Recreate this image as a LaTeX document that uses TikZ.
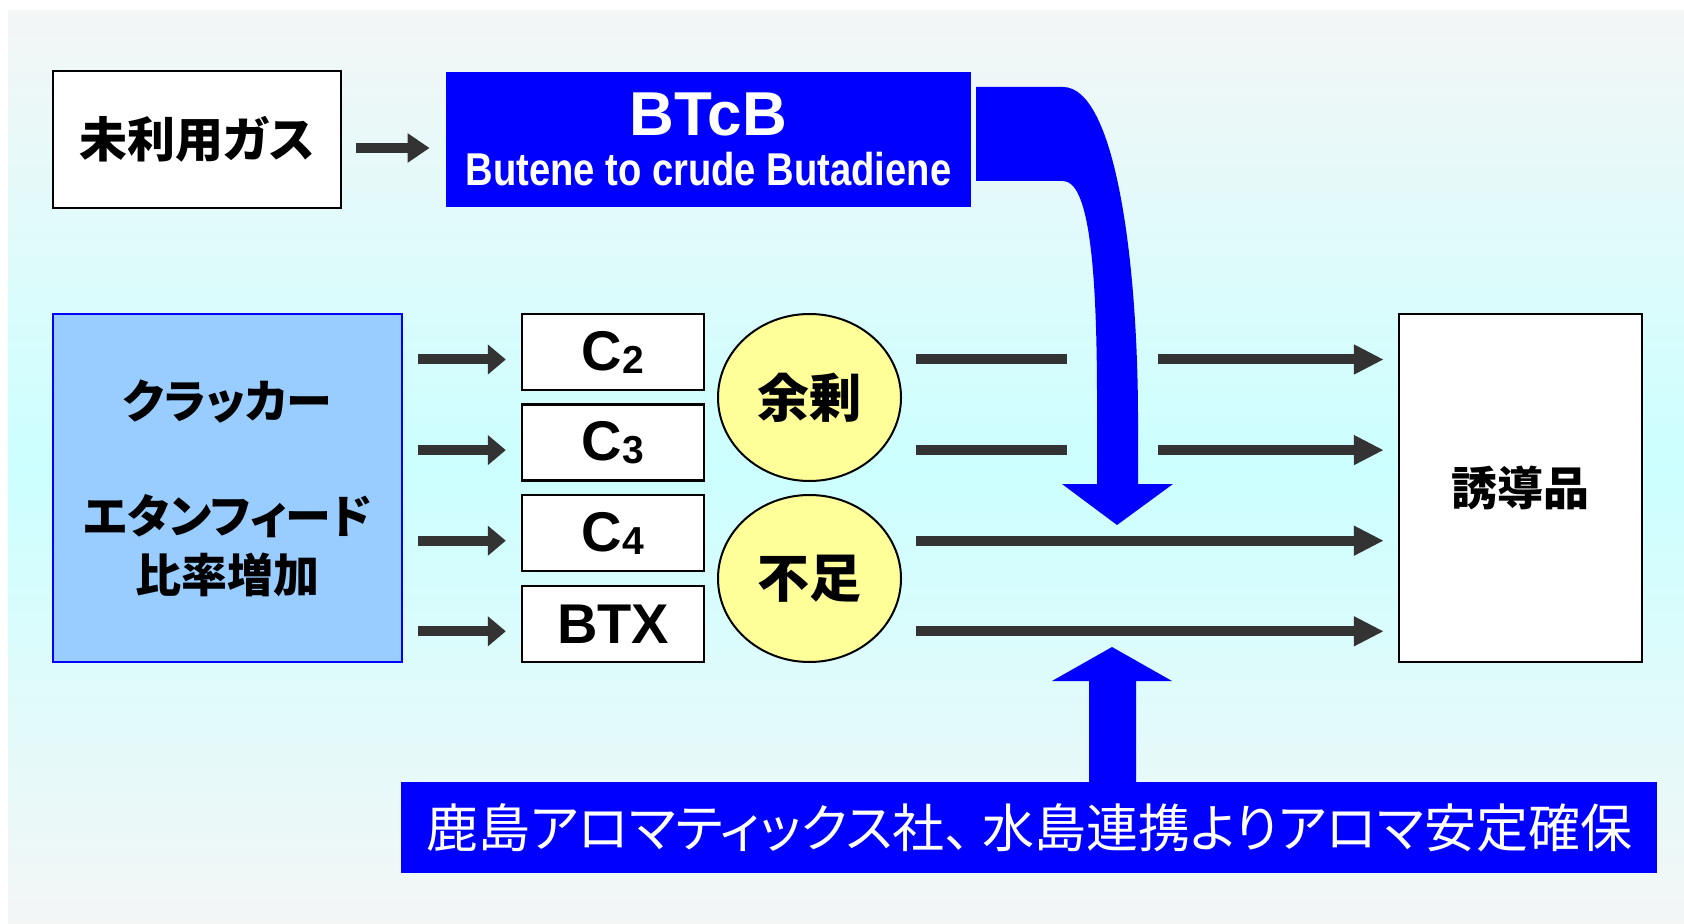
\documentclass[tikz,border=0pt]{standalone}
\usepackage{fontspec}
\usepackage{graphicx}
\setmainfont{Liberation Sans}
\newfontfamily\jp[RawFeature=+palt]{Noto Sans CJK JP}
\usetikzlibrary{arrows.meta,positioning,shapes.geometric}

\definecolor{bgedge}{RGB}{244,246,246}
\definecolor{bgmid}{RGB}{204,255,255}
\definecolor{flow}{RGB}{51,51,51}
\definecolor{crackfill}{RGB}{153,204,255}
\definecolor{ballfill}{RGB}{255,255,153}

\newcommand{\carbon}[1]{C\raisebox{-1.5pt}{\fontsize{19.5pt}{20pt}\selectfont #1}}

\begin{document}
\begin{tikzpicture}[x=0.5pt, y=-0.5pt, node distance=45.3pt,
    box/.style={draw=black, line width=1.2pt, fill=white, inner sep=0pt},
    bluebox/.style={fill=blue, text=white, inner sep=0pt},
    cbox/.style={box, minimum width=91pt, minimum height=38pt, font=\bfseries\fontsize{28pt}{30pt}\selectfont},
    balloon/.style={ellipse, draw=black, line width=1pt, fill=ballfill, minimum width=91.5pt, minimum height=83.5pt, inner sep=0pt, font=\jp\bfseries\fontsize{26pt}{28pt}\selectfont},
    feed/.style={draw=flow, line width=5pt, -{Triangle[length=9pt,width=14.5pt]}, shorten <=7.5pt, shorten >=7.5pt},
    flowline/.style={draw=flow, line width=5pt, shorten <=7pt},
    flowarrow/.style={draw=flow, line width=5pt, -{Triangle[length=15pt,width=14pt]}, shorten >=7pt}]
    % Background
    \useasboundingbox (0,0) rectangle (1684,924);
    \fill[top color=bgedge, bottom color=bgedge, middle color=bgmid] (8,11) rectangle (1684,924);

    % Big blue arrows
    \coordinate (dtip) at (1117,525);
    \coordinate (utip) at (1112,647);
    \fill[blue] (976,87) -- (1063,87) .. controls (1115,87) and (1138,260) .. (1138,420)
        -- (1138,484) -- (1173,484) -- (dtip) -- (1062,484) -- (1097,484)
        -- (1097,400) .. controls (1097,260) and (1088,181) .. (1063,181) -- (976,181) -- cycle;
    \fill[blue] (1089,782) -- (1089,681) -- (1052,681) -- (utip) -- (1172,681) -- (1136,681) -- (1136,782) -- cycle;

    % Nodes
    \node (gas) [box, minimum width=144pt, minimum height=68.5pt, font=\jp\bfseries\fontsize{24pt}{26pt}\selectfont] at (197,139.5) {未利用ガス};
    \node (btcb) [bluebox, minimum width=262.5pt, minimum height=67.5pt, align=center, font=\bfseries\fontsize{31pt}{25pt}\selectfont] at (708.5,139.5)
        {BTcB\\\scalebox{0.83}[1]{\fontsize{23pt}{25pt}\selectfont Butene to crude Butadiene}};
    \node (crack) [draw=blue, line width=1pt, fill=crackfill, minimum width=174.5pt, minimum height=174pt, align=center, font=\jp\bfseries\fontsize{23pt}{29.5pt}\selectfont] at (227.5,488)
        {クラッカー\\[28pt]エタンフィード\\比率増加};
    \node (c2) [cbox] at (613,352) {\carbon{2}};
    \node (c3) [cbox, below of=c2] {\carbon{3}};
    \node (c4) [cbox, below of=c3] {\carbon{4}};
    \node (btx) [cbox, below of=c4] {BTX};
    \node (yo) [balloon] at (809.5,397.5) {余剰};
    \node (fu) [balloon] at (809.5,578.5) {不足};
    \node (prod) [box, minimum width=121.5pt, minimum height=174pt, font=\jp\bfseries\fontsize{23pt}{25pt}\selectfont] at (1520.5,488) {誘導品};
    \node (aroma) [bluebox, minimum width=628pt, minimum height=45.5pt, font=\jp\fontsize{26pt}{28pt}\selectfont] at (1029,827.5)
        {鹿島アロマティックス社、\hspace{6pt}水島連携よりアロマ安定確保};
    \coordinate (gapL) at (1067,0);
    \coordinate (gapR) at (1158,0);

    % Edges
    \draw[draw=flow, line width=5pt, -{Triangle[length=11pt,width=14pt]}, shorten <=7pt, shorten >=8pt]
        ([yshift=-4.25pt]gas.east) -- ([yshift=-4.25pt]btcb.west);
    \foreach \n in {c2,c3,c4,btx} {
        \coordinate (\n-row) at ([yshift=-3.75pt]\n.center);
        \draw[feed] (\n-row -| crack.east) -- (\n-row -| \n.west);
    }
    \foreach \n in {c2,c3} {
        \draw[flowline] (\n-row -| yo.east) -- (\n-row -| gapL);
        \draw[flowarrow] (\n-row -| gapR) -- (\n-row -| prod.west);
    }
    \foreach \n in {c4,btx}
        \draw[flowarrow, shorten <=7pt] (\n-row -| fu.east) -- (\n-row -| prod.west);
\end{tikzpicture}
\end{document}
